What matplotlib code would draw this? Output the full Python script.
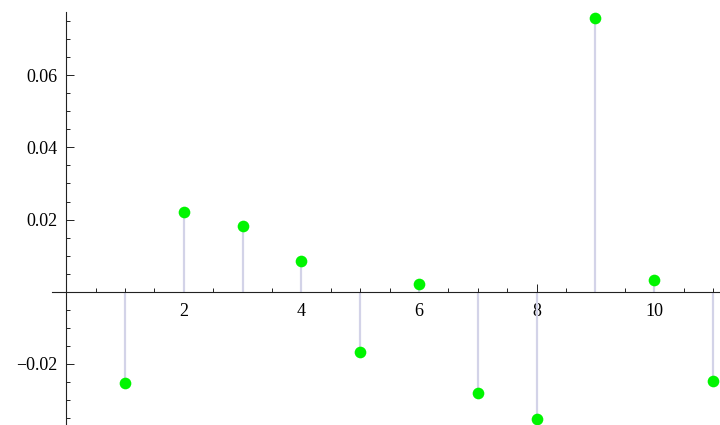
import matplotlib
matplotlib.use("Agg")
import matplotlib.pyplot as plt
from matplotlib.ticker import MultipleLocator, FixedLocator, FuncFormatter

# Sample index and value at each index
n = [1, 2, 3, 4, 5, 6, 7, 8, 9, 10, 11]
values = [-0.0254, 0.0221, 0.0182, 0.0085, -0.0167, 0.0021,
          -0.0281, -0.0353, 0.0757, 0.0034, -0.0248]

x_ticks = [2, 4, 6, 8, 10]
y_ticks = [-0.02, 0.02, 0.04, 0.06]

plt.rcParams['font.family'] = ['Liberation Serif', 'DejaVu Serif']

W, H = 720, 425
fig = plt.figure(figsize=(W / 100, H / 100), dpi=100)
ax = fig.add_axes([52 / W, 0, 1 - 52 / W, (H - 12) / H])

ax.set_xlim(-0.24, 11.12)
ax.set_ylim(-0.0369, 0.0775)

# stems then dots
ax.vlines(n, 0, values, colors='#d3d3e8', linewidth=1.6, zorder=2)
ax.plot(n, values, 'o', color='#00f500', markersize=8.4,
        markeredgewidth=0, zorder=3, clip_on=False)

for side in ('top', 'right'):
    ax.spines[side].set_visible(False)
for side in ('left', 'bottom'):
    ax.spines[side].set_position(('data', 0))
    ax.spines[side].set_color('#222222')
    ax.spines[side].set_linewidth(0.8)

ax.xaxis.set_major_locator(FixedLocator(x_ticks))
ax.xaxis.set_minor_locator(MultipleLocator(0.5))
ax.yaxis.set_major_locator(FixedLocator(y_ticks))
ax.yaxis.set_minor_locator(MultipleLocator(0.005))
ax.yaxis.set_major_formatter(FuncFormatter(lambda v, p: f"{v:.2f}".replace('-', '\u2212')))
ax.xaxis.set_major_formatter(FuncFormatter(lambda v, p: f"{v:g}"))

ax.tick_params(axis='both', which='both', direction='in', color='#222222',
               labelsize=13, width=0.7)
ax.tick_params(axis='both', which='major', length=5.5)
ax.tick_params(axis='both', which='minor', length=3)
ax.tick_params(axis='x', which='major', pad=8)
ax.tick_params(axis='y', which='major', pad=6)

fig.savefig('out.png', dpi=100)
